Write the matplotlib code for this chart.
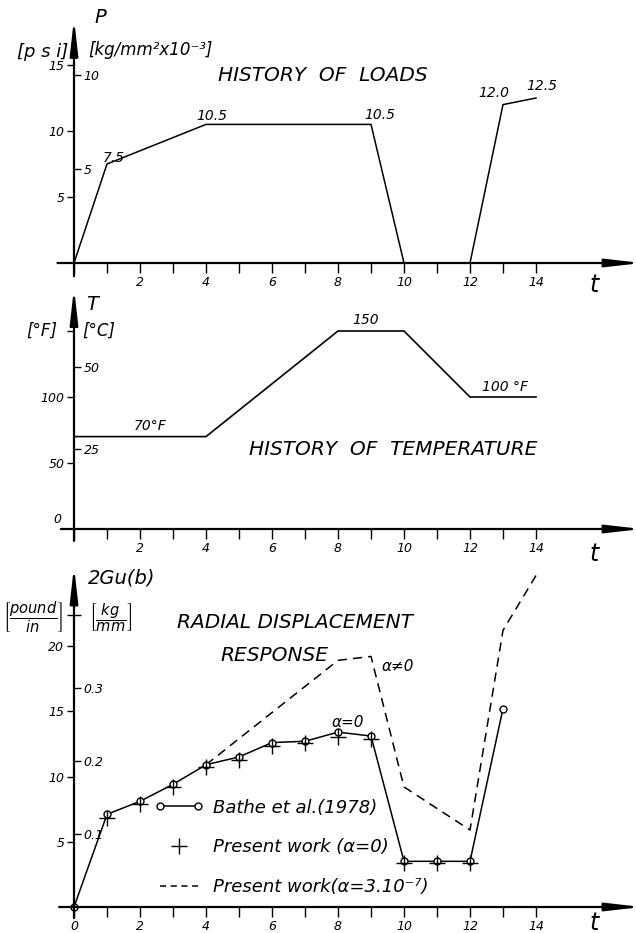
import numpy as np
import matplotlib.pyplot as plt
from matplotlib import ticker
from matplotlib.lines import Line2D
from matplotlib.legend_handler import HandlerLine2D

plt.rcParams['font.family'] = ['DejaVu Sans']
plt.rcParams['font.style'] = 'italic'
plt.rcParams['mathtext.fontset'] = 'dejavusans'

# ---- values ----
load_t = [0, 1, 4, 9, 10, 12, 13, 14]
load_p = [0, 7.5, 10.5, 10.5, 0, 0, 12.0, 12.5]

temp_t = [0, 4, 8, 10, 12, 14]
temp_f = [70, 70, 150, 150, 100, 100]

bathe_t = [0, 1, 2, 3, 4, 5, 6, 7, 8, 9, 10, 11, 12, 13]
bathe_u = [0, 7.1, 8.1, 9.4, 10.9, 11.5, 12.6, 12.7, 13.4, 13.1, 3.5, 3.5, 3.5, 15.2]

present_t = [1, 2, 3, 4, 5, 6, 7, 8, 9, 10, 11, 12]
present_u = [6.8, 7.9, 9.2, 10.7, 11.3, 12.3, 12.6, 13.0, 12.9, 3.4, 3.4, 3.4]

alpha_t = [4, 6, 8, 9, 10, 12, 13, 14]
alpha_u = [10.9, 14.9, 18.9, 19.2, 9.2, 5.9, 21.2, 25.4]

psi_ticks = [5, 10, 15]
kg_ticks = [5, 10]              # kg/mm^2 x 10^-3
f_ticks = [50, 100, 150]
c_ticks = [25, 50]
lbin_ticks = [5, 10, 15, 20]
kgmm_ticks = [0.1, 0.2, 0.3, 0.4]

PSI_PER_KG = 1.422              # psi per 1e-3 kg/mm^2
LBIN_PER_KGMM = 56.0            # pound/in per kg/mm
F_PER_C, F_AT_0C = 2.48, -1.5   # the deg C scale as it is drawn in the original

# ---- layout (pixels of the 636x933 picture) ----
W, H = 636, 933
T0_PX, PX_PER_T = 74, 33.0

fig = plt.figure(figsize=(W / 100, H / 100), dpi=100)

ARROW = dict(arrowstyle='-|>,head_length=1.05,head_width=0.12', color='k',
             lw=1.6, mutation_scale=20, shrinkA=0, shrinkB=0)


def make_panel(top_px, bottom_px, zero_px, px_per_unit):
    ax = fig.add_axes([0, 1 - bottom_px / H, 1, (bottom_px - top_px) / H])
    ax.set_xlim(-T0_PX / PX_PER_T, (W - T0_PX) / PX_PER_T)
    ax.set_ylim(-(bottom_px - zero_px) / px_per_unit, (zero_px - top_px) / px_per_unit)
    ax.patch.set_visible(False)
    for s in ['top', 'right']:
        ax.spines[s].set_visible(False)
    for s in ['left', 'bottom']:
        ax.spines[s].set_position(('data', 0))
        ax.spines[s].set_color('none')
    return ax


def draw_axes(ax, x_from, y_from, y_to, label0=False):
    ax.annotate('', xy=(17.2, 0), xytext=(x_from, 0), arrowprops=ARROW, annotation_clip=False)
    ax.annotate('', xy=(0, y_to), xytext=(0, y_from), arrowprops=ARROW, annotation_clip=False)
    ax.set_xticks(range(15))
    ax.xaxis.set_major_formatter(ticker.FuncFormatter(
        lambda v, p: f'{int(v)}' if int(v) % 2 == 0 and (v > 0 or label0) else ''))
    ax.tick_params(axis='x', direction='out', length=7, width=1, labelsize=9, pad=2)
    ax.tick_params(axis='y', direction='out', length=5, width=1, labelsize=9, pad=2)
    ax.text(15.75, ax.get_ylim()[0] * 0.6, 't', fontsize=17, ha='center', va='center')


def right_scale(ax, fwd, inv, ticks, labels):
    sec = ax.secondary_yaxis(T0_PX / W, functions=(fwd, inv))
    sec.set_alignment('right')
    sec.spines['right'].set_visible(False)
    sec.spines['left'].set_visible(False)
    sec.set_yticks(ticks)
    sec.set_yticklabels(labels)
    sec.tick_params(direction='out', length=5, width=1, labelsize=9, pad=2)
    return sec


# ================= loads =================
ax1 = make_panel(0, 300, 263, 13.2)
draw_axes(ax1, -0.5, -1.0, 18.5)
ax1.plot(load_t, load_p, color='k', lw=1.1)
ax1.set_yticks(psi_ticks)
right_scale(ax1, lambda p: p / PSI_PER_KG, lambda k: k * PSI_PER_KG,
            kg_ticks, [str(k) for k in kg_ticks])

offsets = {1: (5, 4), 2: (4, 6), 3: (6.5, 7), 6: (-6.5, 8.5), 7: (4, 9)}
for i, (dx, dy) in offsets.items():
    ax1.annotate(f'{load_p[i]:.1f}', (load_t[i], load_p[i]), xytext=(dx, dy),
                 textcoords='offset points', ha='center', va='center', fontsize=10)

ax1.text(0.79, 18.6, 'P', fontsize=14, ha='center', va='center')
ax1.text(-0.18, 16.0, '[p s i]', fontsize=13, ha='right', va='center')
ax1.text(0.42, 16.1, '[kg/mm²x10⁻³]', fontsize=12, ha='left', va='center')
ax1.text(7.55, 14.2, 'HISTORY  OF  LOADS', fontsize=14.5, ha='center', va='center')

# ================= temperature =================
ax2 = make_panel(300, 570, 529, 1.32)
draw_axes(ax2, -0.4, -9, 182.6)
ax2.plot(temp_t, temp_f, color='k', lw=1.2)
ax2.set_yticks(f_ticks)
ax2.set_yticklabels(['50', '100', ''])
ax2.annotate('0', (0, 0), xytext=(-12, 7), textcoords='offset points',
             ha='center', va='center', fontsize=9)
right_scale(ax2, lambda f: (f - F_AT_0C) / F_PER_C, lambda c: c * F_PER_C + F_AT_0C,
            c_ticks, [str(c) for c in c_ticks])

ax2.text(0.55, 170, 'T', fontsize=14, ha='center', va='center')
ax2.text(-0.52, 150, '[°F]', fontsize=12, ha='right', va='center')
ax2.text(0.24, 150, '[°C]', fontsize=12, ha='left', va='center')
ax2.text(2.3, 78, f'{temp_f[0]}°F', fontsize=10, ha='center', va='center')
ax2.text(8.85, 158, f'{temp_f[2]}', fontsize=10, ha='center', va='center')
ax2.text(13.06, 107.6, f'{temp_f[4]} °F', fontsize=10, ha='center', va='center')
ax2.text(9.67, 60.6, 'HISTORY  OF  TEMPERATURE', fontsize=14.5, ha='center', va='center')

# ================= radial displacement =================
ax3 = make_panel(560, 933, 907, 13.05)
draw_axes(ax3, -0.45, -0.85, 26.1, label0=True)
ax3.plot(alpha_t, alpha_u, color='k', lw=1.1, dashes=(6, 4))
ax3.plot(bathe_t, bathe_u, color='k', lw=1.1, marker='o', ms=5,
         mfc='white', mec='k', mew=1.0)
ax3.plot(present_t, present_u, ls='none', marker='+', ms=11, mew=1.0, color='k')
ax3.set_yticks(lbin_ticks)
ax3.set_yticks([0.4 * LBIN_PER_KGMM], minor=True)
ax3.tick_params(axis='y', which='minor', direction='out', length=5, width=1)
right_scale(ax3, lambda u: u / LBIN_PER_KGMM, lambda k: k * LBIN_PER_KGMM,
            kgmm_ticks, ['0.1', '0.2', '0.3', ''])

ax3.text(0.42, 25.2, '2Gu(b)', fontsize=14, ha='left', va='center')
ax3.text(-1.24, 22.2, r'$\left[\dfrac{pound}{in}\right]$', fontsize=10.5,
         ha='center', va='center')
ax3.text(1.12, 22.2, r'$\left[\dfrac{kg}{mm}\right]$', fontsize=10.5,
         ha='center', va='center')
ax3.text(6.7, 21.8, 'RADIAL DISPLACEMENT', fontsize=14.5, ha='center', va='center')
ax3.text(6.06, 19.3, 'RESPONSE', fontsize=14.5, ha='center', va='center')
ax3.text(9.8, 18.4, 'α≠0', fontsize=11, ha='center', va='center')
ax3.text(8.3, 14.1, 'α=0', fontsize=11, ha='center', va='center')

handles = [
    Line2D([], [], color='k', lw=1.1, marker='o', ms=5, mfc='white', mec='k'),
    Line2D([], [], color='k', ls='none', marker='+', ms=11, mew=1.0),
    Line2D([], [], color='k', lw=1.1, dashes=(4, 3)),
]
labels = ['Bathe et al.(1978)', 'Present work (α=0)', 'Present work(α=3.10⁻⁷)']
ax3.legend(handles, labels, loc='upper left', bbox_to_anchor=(2.45, 8.3),
           bbox_transform=ax3.transData, frameon=False, fontsize=13,
           handlelength=2.7, handletextpad=0.5, labelspacing=1.2,
           borderpad=0, borderaxespad=0, numpoints=2,
           handler_map={handles[1]: HandlerLine2D(numpoints=1)})

fig.savefig('out.png', dpi=100)
